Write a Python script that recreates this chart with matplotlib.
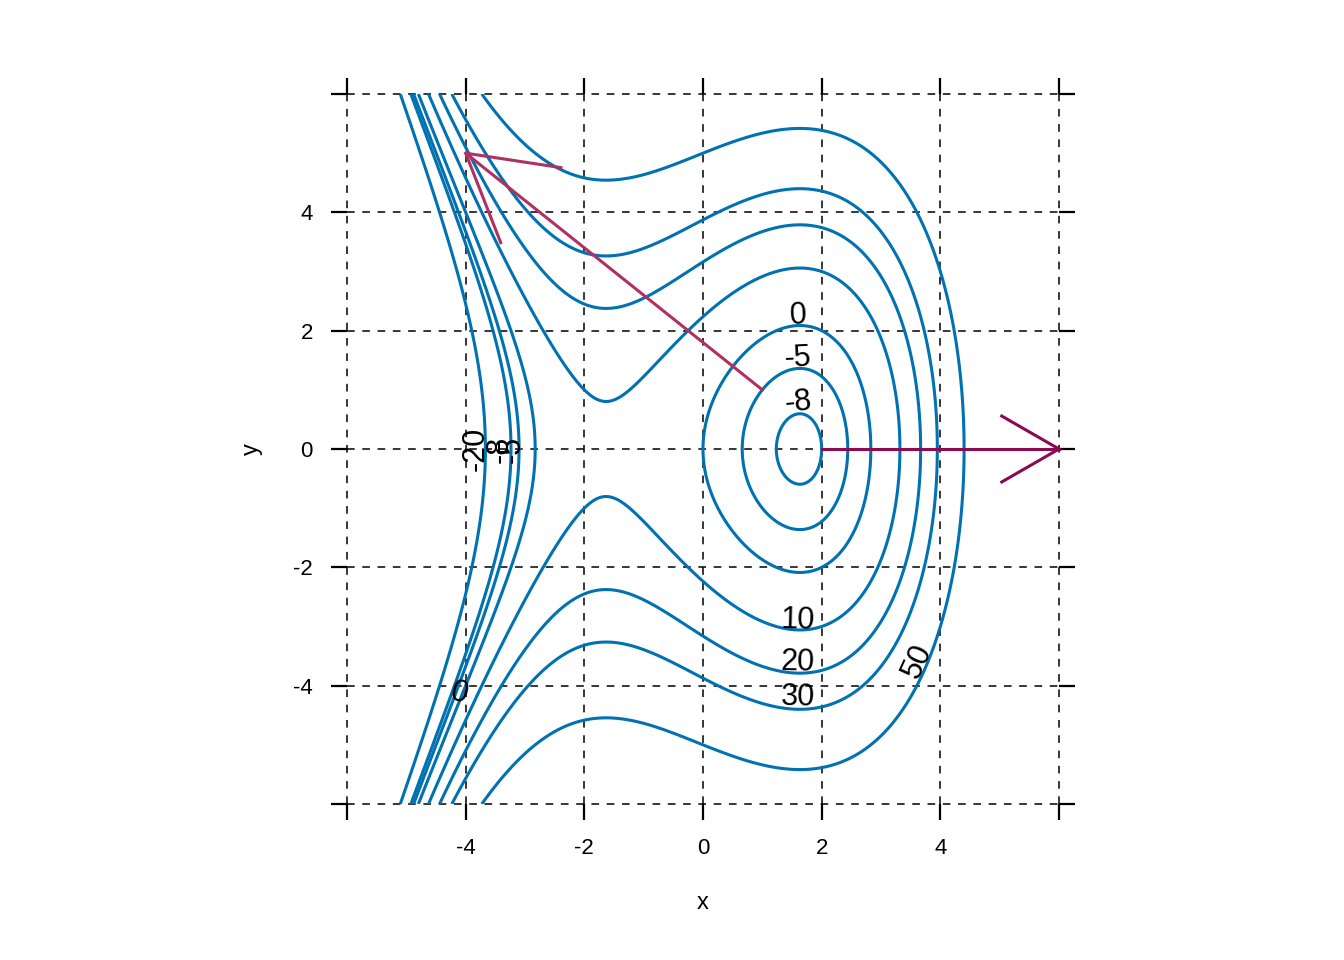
import numpy as np
import matplotlib
matplotlib.use("Agg")
import matplotlib.pyplot as plt

plt.rcParams['font.family'] = ['Liberation Sans', 'DejaVu Sans']

# surface f(x, y) = x^3 - 8x + 2y^2
COEF_X3 = 1.0
COEF_X = -8.0
COEF_Y2 = 2.0

levels = [-20, -8, -5, 0, 10, 20, 30, 50]

# contour label placements: level, (x, y); rotation None -> follow contour
label_levels = [0, -5, -8, 10, 20, 30, 50, -20, -8, -5, 0]
label_x = [1.6, 1.6, 1.6, 1.6, 1.6, 1.6, 3.62, -3.83, -3.42, -3.22, -4.11]
label_y = [2.25, 1.54, 0.78, -2.89, -3.6, -4.2, -3.58, 0.0, 0.0, 0.0, -4.14]
label_rot = [None] * 10 + [-15]

# gradient arrows start points
arrow_x0 = [1.0, 2.0]
arrow_y0 = [1.0, 0.0]
arrow_colors = ['#B03060', '#8B0A50']
head_len = [1.65, 1.14]

ticks = [-6, -4, -2, 0, 2, 4, 6]
tick_labels = ['', '-4', '-2', '0', '2', '4', '']


def f(x, y):
    return COEF_X3 * x**3 + COEF_X * x + COEF_Y2 * y**2


def grad(x, y):
    return 3 * COEF_X3 * x**2 + COEF_X, 2 * COEF_Y2 * y


fig = plt.figure(figsize=(13.44, 9.6), dpi=100)
ax = fig.add_axes([347 / 1344, 1 - 804 / 960, 712 / 1344, 710 / 960])

gx = np.linspace(-6, 6, 600)
gy = np.linspace(-6, 6, 600)
X, Y = np.meshgrid(gx, gy)
ax.contour(X, Y, f(X, Y), levels=levels, colors='#0072B2', linewidths=2.2,
           linestyles='solid')

for lev, lx, ly, rot in zip(label_levels, label_x, label_y, label_rot):
    if rot is None:
        fx, fy = grad(lx, ly)
        rot = np.degrees(np.arctan2(fx, -fy))
        if rot > 90:
            rot -= 180
        if rot < -90:
            rot += 180
    ax.text(lx, ly, str(lev), fontsize=22, ha='center', va='center',
            rotation=rot, rotation_mode='anchor', color='black', zorder=5)

for x0, y0, col, hl in zip(arrow_x0, arrow_y0, arrow_colors, head_len):
    dx, dy = grad(x0, y0)
    x1, y1 = x0 + dx, y0 + dy
    ax.plot([x0, x1], [y0, y1], color=col, lw=2.2, zorder=4, clip_on=False)
    th = np.arctan2(-dy, -dx)
    for s in (-1, 1):
        a = th + s * np.radians(30)
        ax.plot([x1, x1 + hl * np.cos(a)], [y1, y1 + hl * np.sin(a)],
                color=col, lw=2.2, zorder=4, clip_on=False,
                solid_capstyle='butt')

ax.set_xlim(-6, 6)
ax.set_ylim(-6, 6)
ax.set_xticks(ticks)
ax.set_yticks(ticks)
ax.set_xticklabels(tick_labels)
ax.set_yticklabels(tick_labels)
for sp in ax.spines.values():
    sp.set_visible(False)
ax.tick_params(direction='out', length=11.5, width=1.6, top=True, right=True,
               labelsize=16, pad=13)
ax.grid(True, color='black', linestyle=(0, (5, 5)), linewidth=1.1)
for ln in ax.get_xgridlines() + ax.get_ygridlines():
    ln.set_clip_on(False)
ax.set_axisbelow(True)
ax.set_xlabel('x', fontsize=17, labelpad=24)
ax.set_ylabel('y', fontsize=17, labelpad=22)

fig.savefig('out.png', dpi=100)
